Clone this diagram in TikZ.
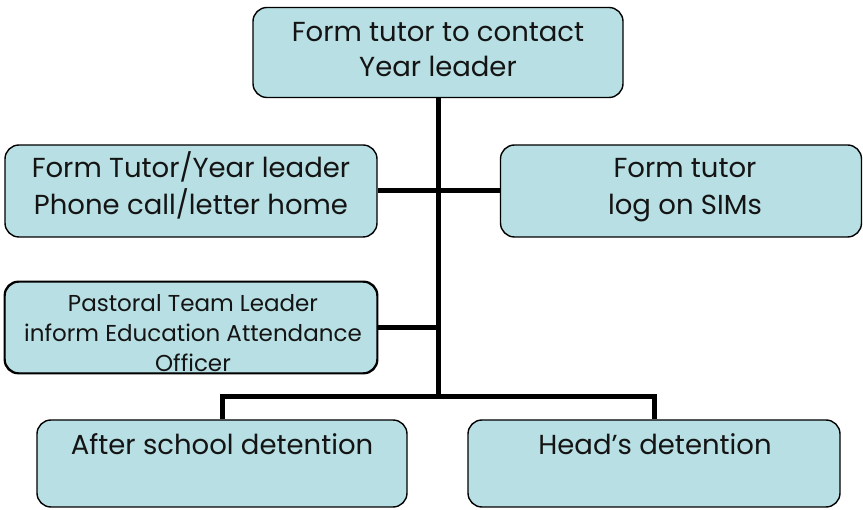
\documentclass[tikz,border=0pt]{standalone}
\usepackage{fontspec}
\setmainfont{Poppins}
\definecolor{boxfill}{HTML}{B8DFE3}
\definecolor{txtcol}{HTML}{141414}
\begin{document}
\begin{tikzpicture}[x=1pt,y=-1pt,
  box/.style={draw=black, line width=1.4pt, fill=boxfill, rounded corners=14pt, inner sep=0pt},
  txt/.style={anchor=base, align=center, text=txtcol, font=\fontsize{27.5}{35}\selectfont, inner sep=0pt},
  smalltxt/.style={anchor=base, align=center, text=txtcol, font=\fontsize{23}{30}\selectfont, inner sep=0pt},
  conn/.style={line width=5pt, line join=miter}]
\useasboundingbox (0,0) rectangle (863,510);
% boxes
\node[box, minimum width=370pt, minimum height=90pt] (top) at (438,52.5) {};
\node[box, minimum width=372pt, minimum height=92pt] (tutor) at (191,191) {};
\node[box, minimum width=361pt, minimum height=92pt] (sims) at (681,191) {};
\node[box, minimum width=372pt, minimum height=91pt] (past) at (191,327.5) {};
\node[box, minimum width=370pt, minimum height=87pt] (after) at (222,463.5) {};
\node[box, minimum width=372pt, minimum height=87pt] (head) at (654,463.5) {};
% texts (base anchor = last line baseline)
\node[txt] (ttop) at (438,76.7) {Form tutor to contact\\Year leader};
\node[txt, font=\fontsize{27.5}{37}\selectfont] (ttutor) at (191,215) {Form Tutor/Year leader\\Phone call/letter home};
\node[txt, font=\fontsize{27.5}{37}\selectfont] (tsims) at (685,215) {Form tutor\\log on SIMs};
\begin{scope}
  \clip[rounded corners=14pt] (past.north west) rectangle (past.south east);
  \node[smalltxt] (tpast) at (193,372) {Pastoral Team Leader\\inform Education Attendance\\Officer};
\end{scope}
\draw[line width=1.4pt, rounded corners=14pt] (past.north west) rectangle (past.south east);
\node[txt] (tafter) at (222,455) {After school detention};
\node[txt] (thead) at (655,455) {Head’s detention};
% connectors
\coordinate (j) at (438,397);
\draw[conn] (top.south) -- (j);
\draw[conn] (tutor.east) -- (sims.west);
\draw[conn] (past.east) -- (past.east -| top.south);
\draw[conn] (after.north) |- (j) -| (head.north);
\end{tikzpicture}
\end{document}
